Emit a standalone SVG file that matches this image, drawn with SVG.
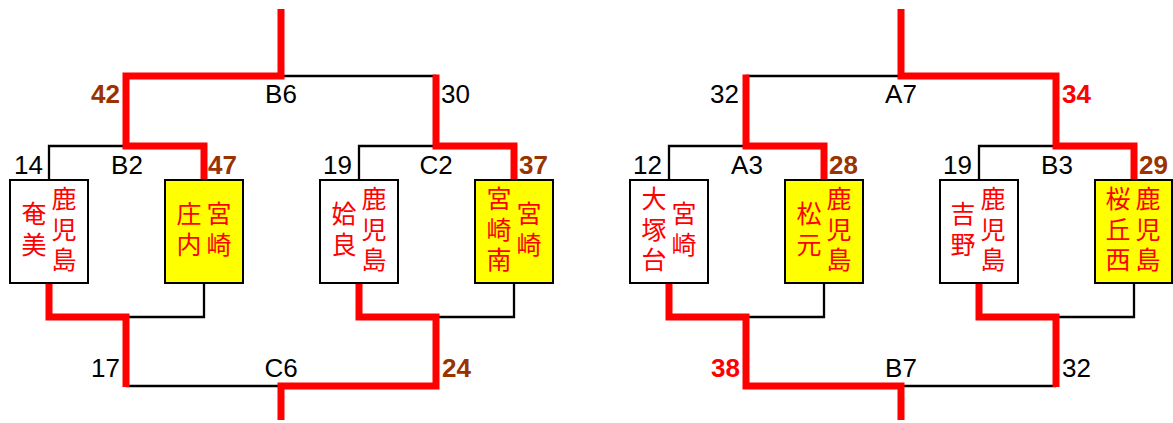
<svg xmlns="http://www.w3.org/2000/svg" width="1173" height="423" viewBox="0 0 1173 423">
<style>
.bg{fill:#ffffff}
.box{fill:#ffffff;stroke:#000000;stroke-width:2}
.win{fill:#ffff00;stroke:#000000;stroke-width:2}
.blk{fill:none;stroke:#000000;stroke-width:2.3;stroke-linejoin:miter}
.red{fill:none;stroke:#ff0000;stroke-width:7;stroke-linejoin:miter;stroke-linecap:butt}
.lbl{font-family:"Liberation Sans",Arial,sans-serif;font-size:26px;fill:#000000}
.sc{font-family:"Liberation Sans",Arial,sans-serif;font-size:26px;font-weight:bold;fill:#993300}
.scr{font-family:"Liberation Sans",Arial,sans-serif;font-size:26px;font-weight:bold;fill:#ff0000}
.jp{font-family:"Noto Sans CJK JP","Noto Sans CJK SC",sans-serif;font-size:25px;fill:#ff0000;writing-mode:vertical-rl;letter-spacing:5.5px}
.m{text-anchor:middle}
.e{text-anchor:end}
</style>
<rect class="bg" x="0" y="0" width="1173" height="423"/>
<g id="connectors">
  <path class="blk" d="M281,76 H436"/>
  <path class="blk" d="M126,146 H49 V180"/>
  <path class="blk" d="M436,146 H359 V180"/>
  <path class="blk" d="M204,283 V317 H126"/>
  <path class="blk" d="M436,317 H514 V283"/>
  <path class="blk" d="M126,386 H281"/>
  <path class="blk" d="M746,76 H901"/>
  <path class="blk" d="M746,146 H669 V180"/>
  <path class="blk" d="M1056,146 H979 V180"/>
  <path class="blk" d="M824,283 V317 H746"/>
  <path class="blk" d="M1056,317 H1134 V283"/>
  <path class="blk" d="M901,386 H1056"/>
  <path class="red" d="M281,9 V76 H126 V146 H204 V180"/>
  <path class="red" d="M436,74.5 V146 H514 V180"/>
  <path class="red" d="M49,283 V317 H126 V387"/>
  <path class="red" d="M359,283 V317 H436 V386 H281 V420"/>
  <path class="red" d="M901,9 V76 H1056 V146 H1134 V180"/>
  <path class="red" d="M746,74.5 V146 H824 V180"/>
  <path class="red" d="M669,283 V317 H746 V386 H901 V420"/>
  <path class="red" d="M979,283 V317 H1056 V387"/>
</g>
<g id="labels">
  <text class="sc e" x="120" y="103">42</text>
  <text class="lbl m" x="281" y="103">B6</text>
  <text class="lbl" x="441" y="103">30</text>
  <text class="lbl e" x="739" y="103">32</text>
  <text class="lbl m" x="901" y="103">A7</text>
  <text class="scr" x="1062" y="103">34</text>
  <text class="lbl e" x="43" y="174">14</text>
  <text class="lbl m" x="127" y="174">B2</text>
  <text class="sc" x="208" y="174">47</text>
  <text class="lbl e" x="352" y="174">19</text>
  <text class="lbl m" x="436" y="174">C2</text>
  <text class="sc" x="519" y="174">37</text>
  <text class="lbl e" x="662" y="174">12</text>
  <text class="lbl m" x="747" y="174">A3</text>
  <text class="sc" x="829" y="174">28</text>
  <text class="lbl e" x="972" y="174">19</text>
  <text class="lbl m" x="1057" y="174">B3</text>
  <text class="sc" x="1139" y="174">29</text>
  <text class="lbl e" x="120" y="377">17</text>
  <text class="lbl m" x="281" y="377">C6</text>
  <text class="sc" x="442" y="377">24</text>
  <text class="scr e" x="740" y="377">38</text>
  <text class="lbl m" x="901" y="377">B7</text>
  <text class="lbl" x="1062" y="377">32</text>
</g>
<g id="team-kagoshima-amami">
  <rect class="box" x="10" y="180" width="78" height="103"/>
  <text class="jp" x="64" y="186">鹿児島</text>
  <text class="jp" x="34" y="201">奄美</text>
</g>
<g id="team-miyazaki-shonai">
  <rect class="win" x="165" y="180" width="78" height="103"/>
  <text class="jp" x="219" y="201">宮崎</text>
  <text class="jp" x="189" y="201">庄内</text>
</g>
<g id="team-kagoshima-aira">
  <rect class="box" x="320" y="180" width="78" height="103"/>
  <text class="jp" x="374" y="186">鹿児島</text>
  <text class="jp" x="344" y="201">姶良</text>
</g>
<g id="team-miyazaki-minami">
  <rect class="win" x="475" y="180" width="78" height="103"/>
  <text class="jp" x="529" y="201">宮崎</text>
  <text class="jp" x="499" y="186">宮崎南</text>
</g>
<g id="team-miyazaki-otsukadai">
  <rect class="box" x="630" y="180" width="78" height="103"/>
  <text class="jp" x="684" y="201">宮崎</text>
  <text class="jp" x="654" y="186">大塚台</text>
</g>
<g id="team-kagoshima-matsumoto">
  <rect class="win" x="785" y="180" width="78" height="103"/>
  <text class="jp" x="839" y="186">鹿児島</text>
  <text class="jp" x="809" y="201">松元</text>
</g>
<g id="team-kagoshima-yoshino">
  <rect class="box" x="940" y="180" width="78" height="103"/>
  <text class="jp" x="993" y="186">鹿児島</text>
  <text class="jp" x="963" y="201">吉野</text>
</g>
<g id="team-kagoshima-sakuragaoka-nishi">
  <rect class="win" x="1095" y="180" width="77" height="103"/>
  <text class="jp" x="1148" y="186">鹿児島</text>
  <text class="jp" x="1118" y="186">桜丘西</text>
</g>
</svg>
